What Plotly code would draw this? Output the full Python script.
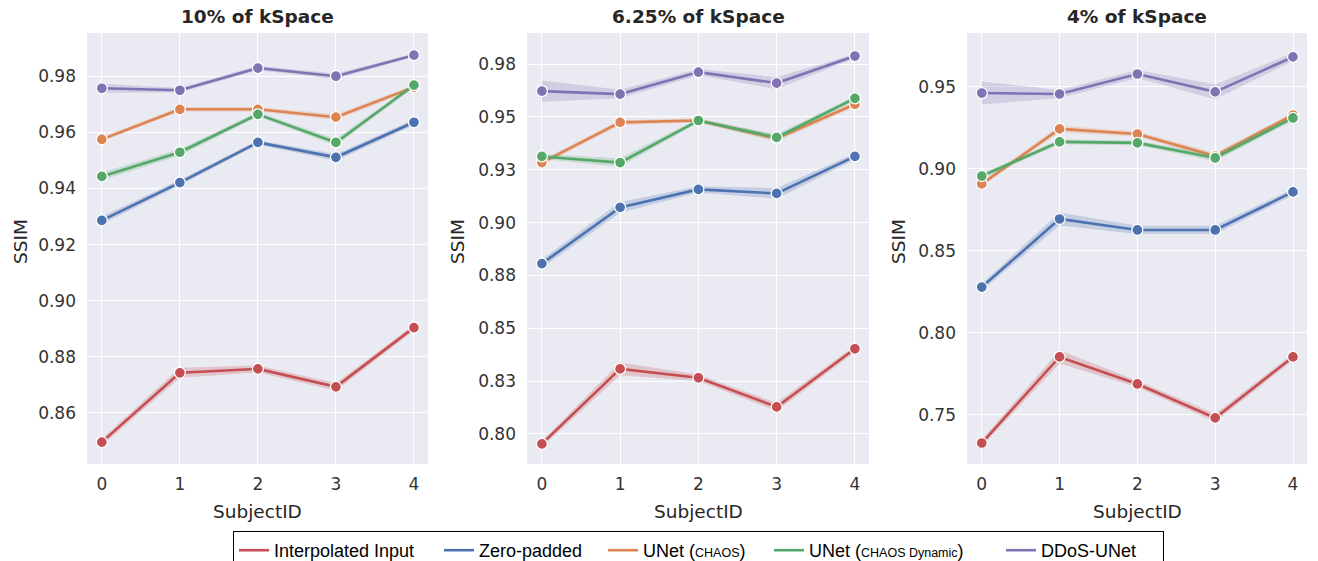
import plotly.graph_objects as go

# ---- data -------------------------------------------------------------
subject_ids = [0, 1, 2, 3, 4]

series_names = [
    "Interpolated Input",
    "Zero-padded",
    "UNet (<span style='font-size:12.5px'>CHAOS</span>)",
    "UNet (<span style='font-size:12.5px'>CHAOS Dynamic</span>)",
    "DDoS-UNet",
]
series_colors = ["#C44E52", "#4C72B0", "#DD8452", "#55A868", "#8172B3"]
# horizontal room given to each legend entry's text
legend_text_widths = [160, 119, 121, 187, 117]

panel_titles = ["10% of kSpace", "6.25% of kSpace", "4% of kSpace"]

# 10% of kSpace: mean SSIM per subject
interp_10 = [0.8496, 0.8743, 0.8757, 0.8693, 0.8904]
zero_10 = [0.9286, 0.9421, 0.9564, 0.9511, 0.9636]
unet_10 = [0.9575, 0.9682, 0.9682, 0.9654, 0.9761]
unetdyn_10 = [0.9443, 0.9529, 0.9664, 0.9564, 0.9768]
ddos_10 = [0.9757, 0.9750, 0.9829, 0.9800, 0.9875]
# 10% of kSpace: confidence half-widths
interp_10_ci = [0.0012, 0.0018, 0.0012, 0.0014, 0.0010]
zero_10_ci = [0.0014, 0.0010, 0.0008, 0.0012, 0.0010]
unet_10_ci = [0.0008, 0.0008, 0.0008, 0.0010, 0.0008]
unetdyn_10_ci = [0.0014, 0.0012, 0.0008, 0.0012, 0.0008]
ddos_10_ci = [0.0016, 0.0008, 0.0008, 0.0010, 0.0006]

# 6.25% of kSpace
interp_625 = [0.7953, 0.8308, 0.8266, 0.8128, 0.8403]
zero_625 = [0.8806, 0.9072, 0.9157, 0.9138, 0.9313]
unet_625 = [0.9284, 0.9474, 0.9483, 0.9398, 0.9560]
unetdyn_625 = [0.9313, 0.9284, 0.9483, 0.9403, 0.9588]
ddos_625 = [0.9622, 0.9608, 0.9712, 0.9660, 0.9788]
interp_625_ci = [0.0015, 0.0030, 0.0015, 0.0020, 0.0015]
zero_625_ci = [0.0020, 0.0025, 0.0015, 0.0025, 0.0015]
unet_625_ci = [0.0012, 0.0012, 0.0010, 0.0015, 0.0012]
unetdyn_625_ci = [0.0012, 0.0020, 0.0010, 0.0015, 0.0012]
ddos_625_ci = [0.0050, 0.0020, 0.0015, 0.0028, 0.0010]

# 4% of kSpace
interp_4 = [0.7329, 0.7854, 0.7689, 0.7482, 0.7854]
zero_4 = [0.8280, 0.8695, 0.8628, 0.8628, 0.8860]
unet_4 = [0.8909, 0.9244, 0.9213, 0.9079, 0.9329]
unetdyn_4 = [0.8957, 0.9165, 0.9159, 0.9067, 0.9311]
ddos_4 = [0.9463, 0.9457, 0.9579, 0.9470, 0.9683]
interp_4_ci = [0.0020, 0.0040, 0.0020, 0.0025, 0.0020]
zero_4_ci = [0.0020, 0.0040, 0.0025, 0.0025, 0.0020]
unet_4_ci = [0.0015, 0.0020, 0.0015, 0.0020, 0.0015]
unetdyn_4_ci = [0.0015, 0.0015, 0.0015, 0.0020, 0.0015]
ddos_4_ci = [0.0070, 0.0025, 0.0025, 0.0045, 0.0025]

# y tick labels per panel
yticks_10 = [0.86, 0.88, 0.90, 0.92, 0.94, 0.96, 0.98]
ytext_10 = ["0.86", "0.88", "0.90", "0.92", "0.94", "0.96", "0.98"]
yticks_625 = [0.800, 0.825, 0.850, 0.875, 0.900, 0.925, 0.950, 0.975]
ytext_625 = ["0.80", "0.83", "0.85", "0.88", "0.90", "0.93", "0.95", "0.98"]
yticks_4 = [0.75, 0.80, 0.85, 0.90, 0.95]
ytext_4 = ["0.75", "0.80", "0.85", "0.90", "0.95"]

panels = [
    ([interp_10, zero_10, unet_10, unetdyn_10, ddos_10],
     [interp_10_ci, zero_10_ci, unet_10_ci, unetdyn_10_ci, ddos_10_ci],
     yticks_10, ytext_10, [0.8418, 0.9954]),
    ([interp_625, zero_625, unet_625, unetdyn_625, ddos_625],
     [interp_625_ci, zero_625_ci, unet_625_ci, unetdyn_625_ci, ddos_625_ci],
     yticks_625, ytext_625, [0.7858, 0.9897]),
    ([interp_4, zero_4, unet_4, unetdyn_4, ddos_4],
     [interp_4_ci, zero_4_ci, unet_4_ci, unetdyn_4_ci, ddos_4_ci],
     yticks_4, ytext_4, [0.7201, 0.9829]),
]

# ---- layout geometry (pixels) ----------------------------------------
W, H = 1318, 561
x_domains_px = [(87, 428), (527, 869), (967, 1307)]
y_domain_px = (33, 464)  # top, bottom
ylabel_x_px = [20, 457, 898]
ylabel_y_px = 242

TEXT = "#262626"
TICK_FONT = dict(family="DejaVu Sans", size=17, color="#333333")


def rgba(hex_color, a):
    h = hex_color.lstrip("#")
    r, g, b = int(h[0:2], 16), int(h[2:4], 16), int(h[4:6], 16)
    return f"rgba({r},{g},{b},{a})"


fig = go.Figure()
annotations = []

for p, (means, cis, ytv, ytt, yrange) in enumerate(panels):
    xa = "x" if p == 0 else f"x{p + 1}"
    ya = "y" if p == 0 else f"y{p + 1}"
    for s, (m, ci) in enumerate(zip(means, cis)):
        col = series_colors[s]
        lower = [v - c for v, c in zip(m, ci)]
        upper = [v + c for v, c in zip(m, ci)]
        # confidence band
        fig.add_trace(go.Scatter(
            x=subject_ids + subject_ids[::-1],
            y=upper + lower[::-1],
            fill="toself", fillcolor=rgba(col, 0.24),
            line=dict(width=0), mode="lines",
            hoverinfo="skip", showlegend=False,
            xaxis=xa, yaxis=ya,
        ))
        # mean line
        fig.add_trace(go.Scatter(
            x=subject_ids, y=m, mode="lines",
            line=dict(color=col, width=2.6),
            name=series_names[s], legendrank=s,
            legendwidth=legend_text_widths[s],
            showlegend=(p == 0),
            xaxis=xa, yaxis=ya,
        ))
        # markers
        fig.add_trace(go.Scatter(
            x=subject_ids, y=m, mode="markers",
            marker=dict(color=col, size=11, line=dict(color="white", width=1.3)),
            showlegend=False, xaxis=xa, yaxis=ya,
        ))

    x0, x1 = x_domains_px[p]
    xkey = "xaxis" if p == 0 else f"xaxis{p + 1}"
    ykey = "yaxis" if p == 0 else f"yaxis{p + 1}"
    fig.update_layout({
        xkey: dict(
            domain=[x0 / W, x1 / W], anchor=ya,
            range=[-0.19, 4.18], tickvals=subject_ids,
            ticktext=[str(v) for v in subject_ids],
            showgrid=True, gridcolor="white", gridwidth=1.3,
            zeroline=False, showline=False, ticks="",
            tickfont=TICK_FONT, ticklabelstandoff=8,
        ),
        ykey: dict(
            domain=[1 - y_domain_px[1] / H, 1 - y_domain_px[0] / H], anchor=xa,
            range=yrange, tickvals=ytv, ticktext=ytt,
            showgrid=True, gridcolor="white", gridwidth=1.3,
            zeroline=False, showline=False, ticks="",
            tickfont=TICK_FONT, ticklabelstandoff=10,
        ),
    })

    cx = (x0 + x1) / 2 / W
    annotations.append(dict(
        text=f"<b>{panel_titles[p]}</b>", x=cx, y=1 - 17 / H,
        xref="paper", yref="paper", showarrow=False,
        font=dict(family="DejaVu Sans", size=18.5, color=TEXT),
        xanchor="center", yanchor="middle",
    ))
    annotations.append(dict(
        text="SubjectID", x=cx, y=1 - 511 / H,
        xref="paper", yref="paper", showarrow=False,
        font=dict(family="DejaVu Sans", size=18.5, color=TEXT),
        xanchor="center", yanchor="middle",
    ))
    annotations.append(dict(
        text="SSIM", x=ylabel_x_px[p] / W, y=1 - ylabel_y_px / H,
        xref="paper", yref="paper", showarrow=False, textangle=-90,
        font=dict(family="DejaVu Sans", size=18.5, color=TEXT),
        xanchor="center", yanchor="middle",
    ))

fig.update_layout(
    width=W, height=H,
    margin=dict(l=0, r=0, t=0, b=0, autoexpand=False),
    paper_bgcolor="white",
    plot_bgcolor="#EAEAF2",
    annotations=annotations,
    legend=dict(
        orientation="h", x=233 / W, xanchor="left",
        y=1 - 531 / H, yanchor="top",
        bgcolor="white", bordercolor="black", borderwidth=1,
        font=dict(family="Liberation Sans Narrow, Liberation Sans, sans-serif",
                  size=18, color="black"),
        traceorder="normal",
    ),
)

fig.write_html("out.html")
